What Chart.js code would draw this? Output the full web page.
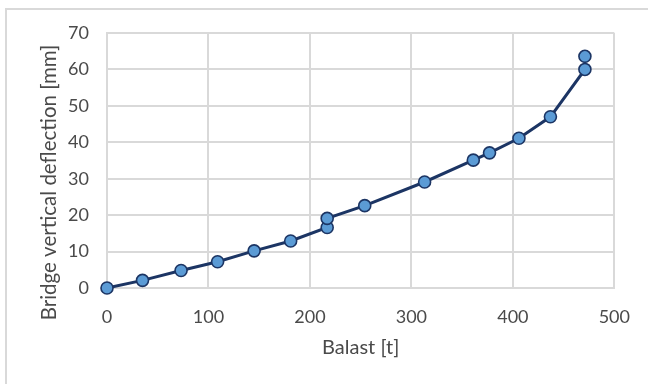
<!DOCTYPE html>
<html>
<head>
<meta charset="utf-8">
<script src="https://cdn.jsdelivr.net/npm/chart.js@4/dist/chart.umd.min.js"></script>
<style>
  html, body { margin: 0; padding: 0; background: #ffffff; overflow: hidden; }
  #frame { position: absolute; left: 5px; top: 8px; width: 700px; height: 420px;
           border: 2px solid #d9d9d9; box-sizing: border-box; }
  #wrap { position: absolute; left: 0; top: 0; width: 648px; height: 384px; }
</style>
</head>
<body>
<div id="frame"></div>
<div id="wrap"><canvas id="chart" width="648" height="384"></canvas></div>
<script>
// Ballast load [t] and measured vertical deflection of the bridge [mm]
const ballast    = [0, 35, 73, 109, 145, 181, 217, 217, 254, 313, 361, 377, 406, 437, 471, 471];
const deflection = [0, 2.1, 4.8, 7.2, 10.2, 12.9, 16.6, 19.1, 22.6, 29.1, 35.1, 37.1, 41.1, 47.0, 60.0, 63.6];
const xTicks = [0, 100, 200, 300, 400, 500];
const yTicks = [0, 10, 20, 30, 40, 50, 60, 70];
const xTitle = 'Balast [t]';
const yTitle = 'Bridge vertical deflection [mm]';

const points = ballast.map((b, i) => ({ x: b, y: deflection[i] }));

const FONT = 'Lato, "Open Sans", sans-serif';
const TEXT = '#4a4a4a';
const GRID = '#d9d9d9';

// Vertical axis title, centred over the axis plus its tick labels
const yTitlePlugin = {
  id: 'yTitle',
  afterDraw(chart) {
    const { ctx, chartArea } = chart;
    ctx.save();
    ctx.translate(49, (chartArea.top + chartArea.bottom) / 2 + 22);
    ctx.rotate(-Math.PI / 2);
    ctx.font = '20.5px ' + FONT;
    ctx.fillStyle = TEXT;
    ctx.textAlign = 'center';
    ctx.textBaseline = 'middle';
    ctx.fillText(yTitle, 0, 0);
    ctx.restore();
  }
};

new Chart(document.getElementById('chart'), {
  type: 'scatter',
  data: {
    datasets: [{
      data: points,
      showLine: true,
      clip: false,
      borderColor: '#1c3564',
      borderWidth: 3,
      backgroundColor: '#5b9bd5',
      pointBackgroundColor: '#5b9bd5',
      pointBorderColor: '#1c3564',
      pointBorderWidth: 1.6,
      pointRadius: 6,
      tension: 0
    }]
  },
  plugins: [yTitlePlugin],
  options: {
    responsive: false,
    animation: false,
    devicePixelRatio: 1,
    layout: { padding: { left: 0, top: 33, right: 31, bottom: 0 } },
    plugins: { legend: { display: false }, tooltip: { enabled: false } },
    scales: {
      x: {
        type: 'linear', min: xTicks[0], max: xTicks[xTicks.length - 1],
        afterBuildTicks: s => { s.ticks = xTicks.map(v => ({ value: v })); },
        afterFit: s => { s.height = 96; },
        grid: { color: GRID, lineWidth: 2, drawTicks: false },
        border: { color: GRID, width: 2 },
        ticks: { padding: 18, color: TEXT, font: { family: FONT, size: 18 } },
        title: { display: true, text: xTitle, color: TEXT,
                 font: { family: FONT, size: 20, lineHeight: 1.2 }, padding: { top: 0, bottom: 24 } }
      },
      y: {
        type: 'linear', min: yTicks[0], max: yTicks[yTicks.length - 1],
        afterBuildTicks: s => { s.ticks = yTicks.map(v => ({ value: v })); },
        afterFit: s => { s.width = 107; },
        grid: { color: GRID, lineWidth: 2, drawTicks: false },
        border: { color: GRID, width: 2 },
        ticks: { padding: 18, color: TEXT, font: { family: FONT, size: 18 } },
        title: { display: false }
      }
    }
  }
});
</script>
</body>
</html>
